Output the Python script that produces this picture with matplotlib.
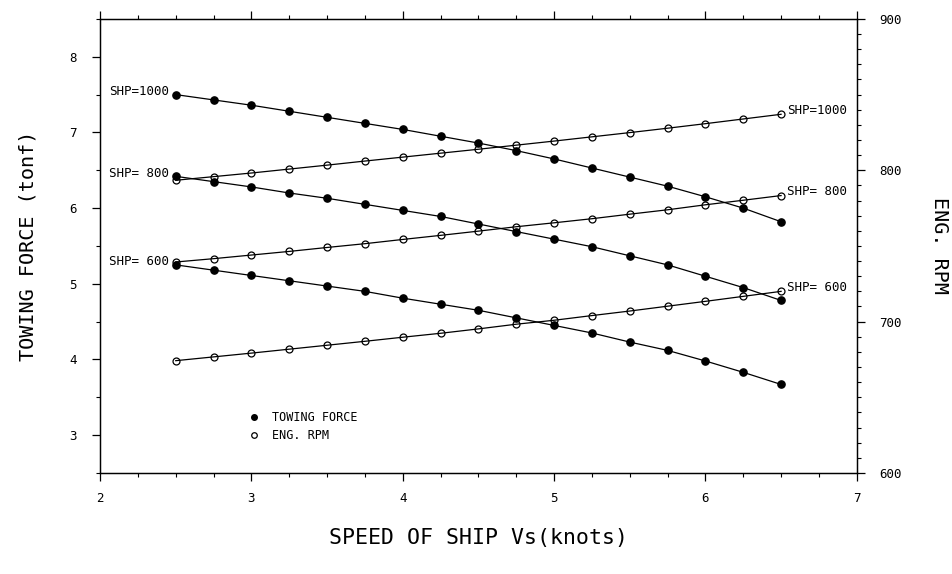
import matplotlib
matplotlib.use('Agg')
import matplotlib.pyplot as plt
from matplotlib.lines import Line2D
from matplotlib.ticker import MultipleLocator

plt.rcParams['font.family'] = 'DejaVu Sans Mono'

# ship speed (knots)
speed = [2.5, 2.75, 3.0, 3.25, 3.5, 3.75, 4.0, 4.25, 4.5,
         4.75, 5.0, 5.25, 5.5, 5.75, 6.0, 6.25, 6.5]

# towing force (tonf) per shaft horse power
force_1000 = [7.50, 7.43, 7.36, 7.28, 7.20, 7.12, 7.04, 6.95, 6.86,
              6.76, 6.65, 6.53, 6.41, 6.29, 6.15, 6.00, 5.82]
force_800 = [6.42, 6.35, 6.28, 6.20, 6.13, 6.05, 5.97, 5.89, 5.79,
             5.69, 5.59, 5.49, 5.37, 5.25, 5.10, 4.95, 4.78]
force_600 = [5.25, 5.18, 5.11, 5.04, 4.97, 4.90, 4.81, 4.73, 4.65,
             4.55, 4.45, 4.35, 4.23, 4.12, 3.98, 3.83, 3.67]

# engine rpm per shaft horse power
rpm_1000 = [793.4, 795.8, 798.2, 800.8, 803.4, 806.1, 808.7, 811.3, 813.9,
            816.6, 819.3, 822.1, 824.9, 827.8, 830.8, 833.9, 837.0]
rpm_800 = [739.4, 741.6, 744.0, 746.4, 749.0, 751.5, 754.3, 757.0, 759.8,
           762.7, 765.3, 768.0, 771.0, 773.9, 777.2, 780.2, 783.3]
rpm_600 = [674.2, 676.7, 679.2, 681.8, 684.4, 687.0, 689.7, 692.3, 695.2,
           698.3, 700.9, 704.0, 707.0, 710.2, 713.4, 716.7, 720.0]

shp_labels = ['SHP=1000', 'SHP= 800', 'SHP= 600']

fig = plt.figure(figsize=(9.53, 5.74), dpi=100)
ax = fig.add_axes([0.105, 0.176, 0.794, 0.791])
ax2 = ax.twinx()

forces = [force_1000, force_800, force_600]
rpms = [rpm_1000, rpm_800, rpm_600]

for f, lab in zip(forces, shp_labels):
  ax.plot(speed, f, color='black', lw=0.9, marker='o', ms=5.2,
          mfc='black', mec='black')
  ax.annotate(lab, (speed[0], f[0]), xytext=(-5, 2.2),
              textcoords='offset points', ha='right', va='center', fontsize=9)

for r, lab in zip(rpms, shp_labels):
  ax2.plot(speed, r, color='black', lw=0.9, marker='o', ms=5.0,
           mfc='none', mec='black', mew=0.9)
  ax2.annotate(lab, (speed[-1], r[-1]), xytext=(4.5, 2.8),
               textcoords='offset points', ha='left', va='center', fontsize=9)

# axes ranges and ticks
ax.set_xlim(2, 7)
ax.set_ylim(2.5, 8.5)
ax2.set_ylim(600, 900)

ax.xaxis.set_major_locator(MultipleLocator(1))
ax.xaxis.set_minor_locator(MultipleLocator(0.25))
ax.yaxis.set_major_locator(MultipleLocator(1))
ax.yaxis.set_minor_locator(MultipleLocator(0.5))
ax2.yaxis.set_major_locator(MultipleLocator(100))
ax2.yaxis.set_minor_locator(MultipleLocator(10))

ax.tick_params(axis='x', which='both', direction='out', top=True,
               labelsize=9, pad=8)
ax.tick_params(axis='y', which='both', direction='out', right=False,
               labelsize=9, pad=11)
ax2.tick_params(axis='y', which='both', direction='out', labelsize=9, pad=10)
for a in (ax, ax2):
  a.tick_params(which='major', length=6, width=0.9)
  a.tick_params(which='minor', length=3, width=0.8)
  for s in a.spines.values():
    s.set_linewidth(0.9)

ax.set_xlabel('SPEED OF SHIP Vs(knots)', fontsize=15.5, va='top')
ax.xaxis.set_label_coords(0.5, -0.122)
ax.set_ylabel('TOWING FORCE (tonf)', fontsize=14.5, va='center')
ax.yaxis.set_label_coords(-0.095, 0.5)
ax2.set_ylabel('ENG. RPM', fontsize=14.5, rotation=270, va='center')
ax2.yaxis.set_label_coords(1.11, 0.5)

handles = [
  Line2D([], [], ls='none', marker='o', ms=4, mfc='black', mec='black'),
  Line2D([], [], ls='none', marker='o', ms=4, mfc='none', mec='black', mew=0.9),
]
ax.legend(handles, ['TOWING FORCE', 'ENG. RPM'], loc='upper left',
          bbox_to_anchor=(0.195, 0.136), frameon=False, fontsize=8.5,
          handlelength=1.0, handletextpad=1.1, borderpad=0, borderaxespad=0,
          labelspacing=0.4)

fig.savefig('out.png', dpi=100)
